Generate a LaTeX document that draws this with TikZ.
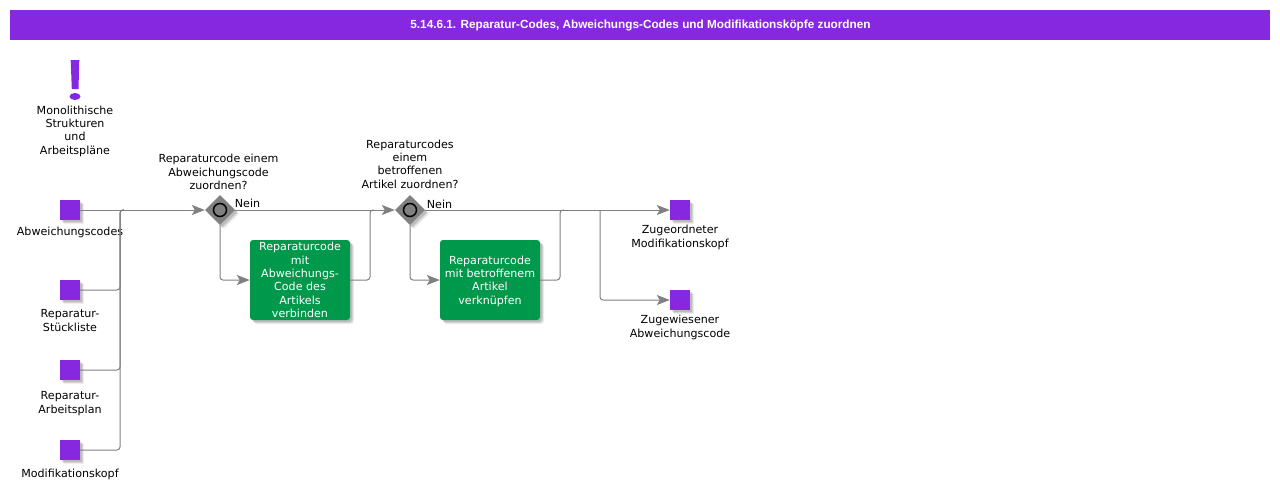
\documentclass[tikz,border=0pt]{standalone}
\usepackage{fontspec}
\setmainfont{DejaVu Sans}
\newfontfamily\titlefont{Liberation Sans}
\usepackage{xcolor}
\usetikzlibrary{shapes.geometric}
\usetikzlibrary{arrows.meta}
\usetikzlibrary{shadows}

\definecolor{barviolet}{RGB}{133,40,224}
\definecolor{taskgreen}{RGB}{0,153,76}
\definecolor{flowgray}{RGB}{128,128,128}

\tikzset{
    softshadow/.style = {
        general shadow = {shadow xshift = 4pt, shadow yshift = -4pt, fill = black, opacity = 0.07},
        general shadow = {shadow xshift = 3pt, shadow yshift = -3pt, fill = black, opacity = 0.1},
        general shadow = {shadow xshift = 2pt, shadow yshift = -2pt, fill = black, opacity = 0.12}},
    datasquare/.style = {rectangle, fill = barviolet, minimum size = 20pt, inner sep = 0pt, softshadow},
    gateway/.style = {diamond, fill = flowgray, minimum width = 30pt, minimum height = 30pt, inner sep = 0pt, softshadow},
    gatering/.style = {circle, draw = black, line width = 1.5pt, fill = flowgray, minimum size = 13pt, inner sep = 0pt},
    taskbox/.style = {rectangle, rounded corners = 3pt, fill = taskgreen, minimum width = 100pt, minimum height = 80pt, inner sep = 0pt, softshadow},
    caption/.style = {align = center, inner sep = 0pt, font = \labelfont},
    flow/.style = {draw = flowgray, line width = 1pt, rounded corners = 3pt},
    flowarrow/.style = {flow, -{Stealth[length = 13pt, width = 10pt, inset = 3pt]}}
}
\newcommand{\labelfont}{\fontsize{11.1}{13.3}\selectfont}

\begin{document}
\begin{tikzpicture}[x = 1pt, y = -1pt]
    \useasboundingbox (0, 0) rectangle (1280, 491);

    \node (titlebar) [rectangle, fill = barviolet, minimum width = 1260pt, minimum height = 30pt, inner sep = 0pt] at (640, 25) {};
    \node (titletext) [text = white, inner sep = 0pt, font = \titlefont\bfseries\fontsize{11.77}{14}\selectfont] at (640.5, 25.5) {5.14.6.1. Reparatur-Codes, Abweichungs-Codes und Modifikationsköpfe zuordnen};

    % exclamation mark
    \fill [barviolet] (70.7, 60) -- (79.3, 60) -- (78.5, 89) -- (71.8, 89) -- cycle;
    \fill [barviolet] (75, 96.5) ellipse (5.5 and 3.5);
    \node (trigger) [caption] at (75, 131) {Monolithische\\Strukturen\\und\\Arbeitspläne};

    % inputs
    \node (abw) [datasquare] at (70, 210) {};
    \node (abwtext) [caption] at (70, 232) {Abweichungscodes};
    \node (stueck) [datasquare] at (70, 290) {};
    \node (stuecktext) [caption] at (70, 320.5) {Reparatur-\\Stückliste};
    \node (plan) [datasquare] at (70, 370) {};
    \node (plantext) [caption] at (70, 403.5) {Reparatur-\\Arbeitsplan};
    \node (modif) [datasquare] at (70, 450) {};
    \node (modiftext) [caption] at (70, 474) {Modifikationskopf};

    % gateways
    \node (gwa) [gateway] at (220, 210) {};
    \node (gwaring) [gatering] at (220, 210) {};
    \node (gwatext) [caption] at (218.5, 172) {Reparaturcode einem\\Abweichungscode\\zuordnen?};
    \node (neina) [caption] at (247.5, 203) {Nein};
    \node (gwb) [gateway] at (410, 210) {};
    \node (gwbring) [gatering] at (410, 210) {};
    \node (gwbtext) [caption] at (410, 164) {Reparaturcodes\\einem\\betroffenen\\Artikel zuordnen?};
    \node (neinb) [caption] at (439.5, 204) {Nein};

    % tasks
    \node (taska) [taskbox] at (300, 280) {};
    \node (taskatext) [caption, text = white] at (300, 280) {Reparaturcode\\mit\\Abweichungs-\\Code des\\Artikels\\verbinden};
    \node (taskb) [taskbox] at (490, 280) {};
    \node (taskbtext) [caption, text = white] at (490, 281) {Reparaturcode\\mit betroffenem\\Artikel\\verknüpfen};

    % outputs
    \node (outa) [datasquare] at (680, 210) {};
    \node (outatext) [caption] at (680, 237.5) {Zugeordneter\\Modifikationskopf};
    \node (outb) [datasquare] at (680, 300) {};
    \node (outbtext) [caption] at (680, 327.5) {Zugewiesener\\Abweichungscode};

    \coordinate (joina) at (120, 210);
    \coordinate (joinb) at (370, 210);
    \coordinate (joinc) at (560, 210);
    \coordinate (splitc) at (600, 210);

    \draw [flowarrow] (abw.east) -- (gwa.west);
    \draw [flow] (stueck.east) -| (joina) -- ++(4, 0);
    \draw [flow] (plan.east) -| (joina) -- ++(4, 0);
    \draw [flow] (modif.east) -| (joina) -- ++(4, 0);
    \draw [flowarrow] (gwa.south) |- (taska.west);
    \draw [flowarrow] (gwa.east) -- (gwb.west);
    \draw [flow] (taska.east) -| (joinb) -- ++(4, 0);
    \draw [flowarrow] (gwb.south) |- (taskb.west);
    \draw [flowarrow] (gwb.east) -- (outa.west);
    \draw [flow] (taskb.east) -| (joinc) -- ++(4, 0);
    \draw [flowarrow] (splitc) |- (outb.west);
\end{tikzpicture}
\end{document}
